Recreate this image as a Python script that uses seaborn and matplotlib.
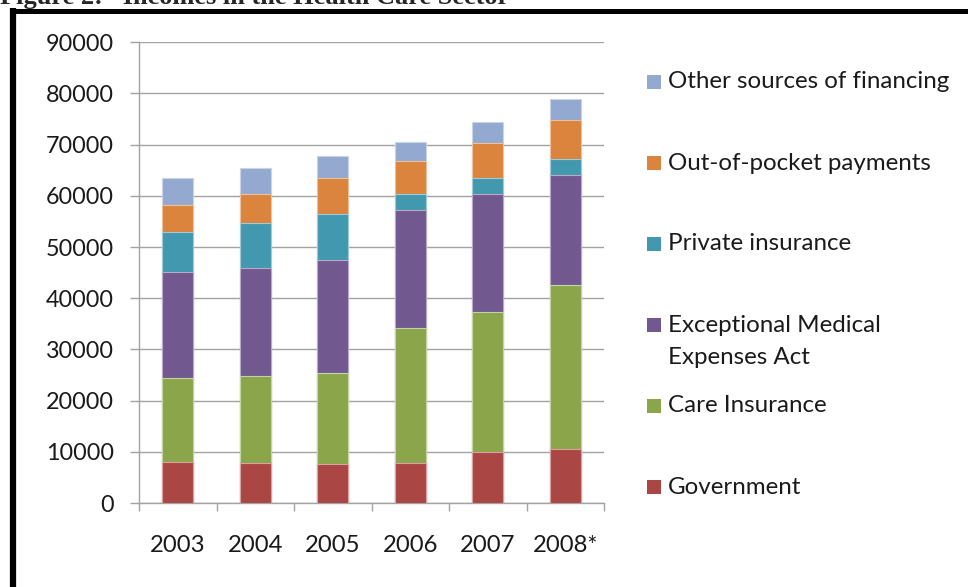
import matplotlib
matplotlib.use("Agg")
import matplotlib.pyplot as plt
import seaborn as sns
import pandas as pd
import numpy as np
from matplotlib.patches import Rectangle
from matplotlib.lines import Line2D

years = ["2003", "2004", "2005", "2006", "2007", "2008*"]
government = [8100, 7800, 7550, 7800, 10000, 10500]
care_insurance = [16400, 17000, 17750, 26300, 27300, 32100]
exceptional_medical = [20700, 21100, 22200, 23100, 23000, 21400]
private_insurance = [7800, 8800, 9000, 3100, 3200, 3200]
out_of_pocket = [5200, 5600, 7000, 6500, 6800, 7600]
other_sources = [5300, 5200, 4300, 3800, 4200, 4200]

series_names = ["Government", "Care Insurance", "Exceptional Medical\nExpenses Act",
                "Private insurance", "Out-of-pocket payments", "Other sources of financing"]
series_values = [government, care_insurance, exceptional_medical,
                 private_insurance, out_of_pocket, other_sources]
colors = ["#AA4644", "#8AA54A", "#71588F", "#4298AF", "#DB843D", "#93A9CF"]
edge_colors = ["#D9A3A2", "#C5D3A5", "#B8ACC7", "#A1CCD7", "#EDC19E", "#C9D4E7"]

sns.set_theme(style="white")
plt.rcParams["font.family"] = ["Lato", "DejaVu Sans"]

W, H = 968, 587
fig = plt.figure(figsize=(W / 100, H / 100), dpi=100)
ax = fig.add_axes([139 / W, 1 - 503 / H, (604 - 139) / W, (503 - 42.3) / H])

cum = np.zeros(len(years))
cums = []
for vals in series_values:
    cum = cum + np.array(vals)
    cums.append(cum.copy())

# draw from the top layer down so each lower stack overlays
for i in range(len(series_values) - 1, -1, -1):
    d = pd.DataFrame({"year": years, "value": cums[i]})
    sns.barplot(data=d, x="year", y="value", order=years, color=colors[i],
                saturation=1, width=0.4, errorbar=None, ax=ax,
                edgecolor=edge_colors[i], linewidth=0.8, zorder=3)

ax.set_ylim(0, 90000)
ax.set_xlim(-0.5, len(years) - 0.5)
ax.set_yticks(np.arange(0, 90001, 10000))
ax.set_xlabel("")
ax.set_ylabel("")
grid_c = "#A3A3A3"
ax.yaxis.grid(True, color=grid_c, linewidth=1.0, zorder=0)
ax.xaxis.grid(False)
for s in ["top", "right"]:
    ax.spines[s].set_visible(False)
ax.spines["left"].set_color(grid_c)
ax.spines["bottom"].set_color(grid_c)
ax.spines["left"].set_linewidth(1.0)
ax.spines["bottom"].set_linewidth(1.0)
ax.set_axisbelow(True)

ax.tick_params(axis="y", which="major", length=6.5, width=1.0, color=grid_c,
               direction="out", left=True, pad=11.5, labelsize=16.8, labelcolor="#1a1a1a")
ax.set_xticks(np.arange(len(years)))
ax.set_xticklabels(years)
ax.set_xticks(np.arange(-0.5, len(years)), minor=True)
ax.tick_params(axis="x", which="major", length=0, pad=23, labelsize=17.2, labelcolor="#1a1a1a")
ax.tick_params(axis="x", which="minor", length=6, width=1.0, color=grid_c,
               direction="out", bottom=True)

# legend (manual, to match the original placement)
leg_fs = 17.4
leg_y = [487, 406, 325, 244, 163, 82]
for i, name in enumerate(series_names):
    y = leg_y[i]
    fig.patches.append(Rectangle((647 / W, 1 - (y + 7) / H), 14 / W, 14 / H,
                                 transform=fig.transFigure, facecolor=colors[i],
                                 edgecolor="none"))
    first, *rest = name.split("\n")
    fig.text(668 / W, 1 - y / H, first, fontsize=leg_fs, va="center", ha="left", color="#1a1a1a")
    for k, line in enumerate(rest):
        fig.text(668 / W, 1 - (y + 32 * (k + 1)) / H, line, fontsize=leg_fs, va="center",
                 ha="left", color="#1a1a1a")

# frame and cut-off caption
fig.add_artist(Line2D([13 / W, 13 / W], [0, 1 - 8 / H], transform=fig.transFigure,
                      color="black", linewidth=4.5, solid_capstyle="butt"))
fig.add_artist(Line2D([10 / W, 1], [1 - 10.5 / H, 1 - 10.5 / H], transform=fig.transFigure,
                      color="black", linewidth=3.6, solid_capstyle="butt"))
fig.text(0, 1 - 4 / H, "Figure 2:   Incomes in the Health Care Sector", fontsize=19,
         fontweight="bold", family=["Liberation Serif"], va="baseline", ha="left")

fig.savefig("out.png", dpi=100)
